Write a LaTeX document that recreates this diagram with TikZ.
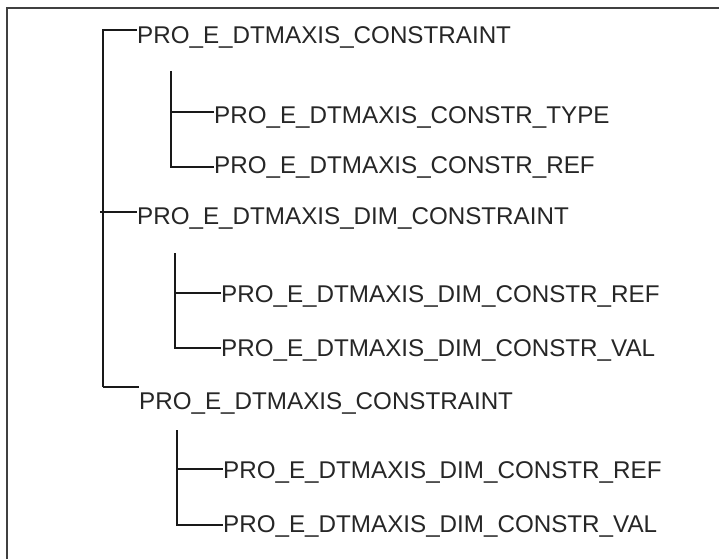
\documentclass[tikz,border=0pt]{standalone}
\usepackage{fontspec}
\setmainfont{Liberation Sans}
\usepackage{tikz}
\usetikzlibrary{positioning}

\begin{document}
\begin{tikzpicture}[x=1pt, y=-1pt,
        item/.style={anchor=west, inner sep=0pt, text height=17pt,
                     text depth=0pt, font=\fontsize{24.2}{29}\selectfont,
                     text=black!85},
        link/.style={line width=1.9pt, black!90}]
      \useasboundingbox (0,0) rectangle (719,559);
      % outer frame, cut off at the right and bottom
      \draw[line width=2.4pt, black!75] (7,559) -- (7,8) -- (719,8);

      \node[item] (c1)  at (137,35)  {PRO\_E\_DTMAXIS\_CONSTRAINT};
      \node[item] (ty1) at (214,115) {PRO\_E\_DTMAXIS\_CONSTR\_TYPE};
      \node[item] (rf1) at (214,165) {PRO\_E\_DTMAXIS\_CONSTR\_REF};
      \node[item] (dc)  at (137,216) {PRO\_E\_DTMAXIS\_DIM\_CONSTRAINT};
      \node[item] (dr1) at (221,294) {PRO\_E\_DTMAXIS\_DIM\_CONSTR\_REF};
      \node[item] (dv1) at (221,348) {PRO\_E\_DTMAXIS\_DIM\_CONSTR\_VAL};
      \node[item] (c2)  at (139,401) {PRO\_E\_DTMAXIS\_CONSTRAINT};
      \node[item] (dr2) at (223,470) {PRO\_E\_DTMAXIS\_DIM\_CONSTR\_REF};
      \node[item] (dv2) at (223,524) {PRO\_E\_DTMAXIS\_DIM\_CONSTR\_VAL};

      % joints on the vertical lines
      \coordinate (m1) at (103,30);  \coordinate (m2) at (100,212);
      \coordinate (m3) at (103,387);
      \coordinate (s1) at (171,71);  \coordinate (s1a) at (171,112);
      \coordinate (s1b) at (171,167);
      \coordinate (s2) at (175,253); \coordinate (s2a) at (175,293);
      \coordinate (s2b) at (175,348);
      \coordinate (s3) at (177,430); \coordinate (s3a) at (177,469);
      \coordinate (s3b) at (177,525);

      \draw[link] (m3) -- (m1) -- (m1 -| c1.west);
      \draw[link] (m2) -- (m2 -| dc.west);
      \draw[link] (m3) -- (m3 -| c2.west);
      \draw[link] (s1) -- (s1b) -- (s1b -| rf1.west);
      \draw[link] (s1a) -- (s1a -| ty1.west);
      \draw[link] (s2) -- (s2b) -- (s2b -| dv1.west);
      \draw[link] (s2a) -- (s2a -| dr1.west);
      \draw[link] (s3) -- (s3b) -- (s3b -| dv2.west);
      \draw[link] (s3a) -- (s3a -| dr2.west);
    \end{tikzpicture}
\end{document}
